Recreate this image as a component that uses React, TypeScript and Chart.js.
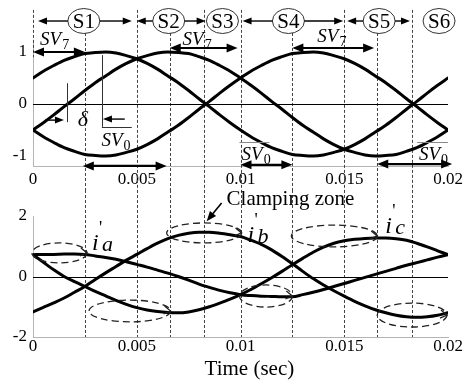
import React, { useEffect, useRef } from 'react';
import { Chart, registerables } from 'chart.js';

Chart.register(...registerables);

const FONT = '"Liberation Serif", "DejaVu Serif", "Times New Roman", serif';

// ---------- data ----------
const time = [
  0, 0.0005, 0.001, 0.0015, 0.002, 0.0025, 0.003, 0.0035, 0.004, 0.0045,
  0.005, 0.0055, 0.006, 0.0065, 0.007, 0.0075, 0.008, 0.0085, 0.009, 0.0095,
  0.01, 0.0105, 0.011, 0.0115, 0.012, 0.0125, 0.013, 0.0135, 0.014, 0.0145,
  0.015, 0.0155, 0.016, 0.0165, 0.017, 0.0175, 0.018, 0.0185, 0.019, 0.0195, 0.02,
];

// upper plot: modulating signals
const modA = [
  0.5, 0.63, 0.74, 0.84, 0.91, 0.97, 0.99, 1.0, 0.98, 0.93,
  0.87, 0.78, 0.67, 0.54, 0.41, 0.26, 0.1, -0.05, -0.21, -0.36,
  -0.5, -0.63, -0.74, -0.84, -0.91, -0.97, -0.99, -1.0, -0.98, -0.93,
  -0.87, -0.78, -0.67, -0.54, -0.41, -0.26, -0.1, 0.05, 0.21, 0.36, 0.5,
];
const modB = [
  -0.5, -0.36, -0.21, -0.05, 0.1, 0.26, 0.41, 0.54, 0.67, 0.78,
  0.87, 0.93, 0.98, 1.0, 0.99, 0.97, 0.91, 0.84, 0.74, 0.63,
  0.5, 0.36, 0.21, 0.05, -0.1, -0.26, -0.41, -0.54, -0.67, -0.78,
  -0.87, -0.93, -0.98, -1.0, -0.99, -0.97, -0.91, -0.84, -0.74, -0.63, -0.5,
];
const modC = [
  -0.5, -0.63, -0.74, -0.84, -0.91, -0.97, -0.99, -1.0, -0.98, -0.93,
  -0.87, -0.78, -0.67, -0.54, -0.41, -0.26, -0.1, 0.05, 0.21, 0.36,
  0.5, 0.63, 0.74, 0.84, 0.91, 0.97, 0.99, 1.0, 0.98, 0.93,
  0.87, 0.78, 0.67, 0.54, 0.41, 0.26, 0.1, -0.05, -0.21, -0.36, -0.5,
];

// lower plot: currents i'a, i'b, i'c
const iA = [
  0.72, 0.73, 0.73, 0.74, 0.74, 0.73, 0.68, 0.63, 0.57, 0.49,
  0.4, 0.31, 0.21, 0.11, 0.0, -0.12, -0.25, -0.36, -0.46, -0.54,
  -0.6, -0.63, -0.65, -0.66, -0.67, -0.67, -0.6, -0.52, -0.43, -0.33,
  -0.23, -0.13, -0.03, 0.07, 0.17, 0.27, 0.37, 0.46, 0.55, 0.64, 0.72,
];
const iB = [
  -1.17, -1.02, -0.87, -0.71, -0.52, -0.33, -0.1, 0.12, 0.33, 0.54,
  0.73, 0.92, 1.1, 1.25, 1.36, 1.43, 1.46, 1.46, 1.43, 1.38,
  1.32, 1.2, 1.06, 0.88, 0.66, 0.42, 0.17, -0.07, -0.28, -0.47,
  -0.65, -0.82, -0.97, -1.1, -1.2, -1.28, -1.33, -1.35, -1.33, -1.28, -1.2,
];
const iC = [
  0.72, 0.47, 0.22, 0.0, -0.17, -0.33, -0.49, -0.64, -0.79, -0.92,
  -1.03, -1.11, -1.16, -1.19, -1.2, -1.17, -1.1, -1.0, -0.88, -0.75,
  -0.6, -0.43, -0.24, -0.04, 0.17, 0.39, 0.6, 0.8, 0.97, 1.1,
  1.18, 1.23, 1.26, 1.27, 1.27, 1.25, 1.2, 1.1, 0.98, 0.85, 0.72,
];

const xTicks = [0, 0.005, 0.01, 0.015, 0.02];
const xTickLabels = ['0', '0.005', '0.01', '0.015', '0.02'];
const yTicksTop = [-1, 0, 1];
const yTickLabelsTop = ['-1', '0', '1'];
const yTicksBottom = [-2, 0, 2];
const yTickLabelsBottom = ['-2', '0', '2'];
const sectorLabels = ['S1', 'S2', 'S3', 'S4', 'S5', 'S6'];
const xTitle = 'Time (sec)';
const clampText = 'Clamping zone';
const currentNames = ['a', 'b', 'c'];

// ---------- annotation placement (data coordinates) ----------
const TOP_ANN = {
  dashed: [
    { t: 0, v1: 1.81, v2: 0.9 },
    { t: 0.0025, v1: 1.365, v2: null },
    { t: 0.005, v1: 1.81, v2: null },
    { t: 0.0066, v1: 1.365, v2: null },
    { t: 0.00825, v1: 1.81, v2: null },
    { t: 0.01, v1: 1.81, v2: null },
    { t: 0.0125, v1: 1.365, v2: null },
    { t: 0.015, v1: 1.81, v2: null },
    { t: 0.0166, v1: 1.365, v2: null },
    { t: 0.01825, v1: 1.81, v2: null },
  ],
  rowV: 1.596,
  circles: [0.00245, 0.00654, 0.00913, 0.01231, 0.01668, 0.01957],
  rowArrows: [
    [0.00168, 0.00024],
    [0.00322, 0.00476],
    [0.00577, 0.005],
    [0.00731, 0.00832],
    [0.01154, 0.0101],
    [0.01308, 0.01495],
    [0.01591, 0.01514],
    [0.01745, 0.01817],
  ],
  sv7: [
    { t: 0.00034, v: 1.135 },
    { t: 0.00721, v: 1.135 },
    { t: 0.0137, v: 1.19 },
  ],
  dblArrows: [
    { t1: 0, t2: 0.0025, v: 1.0 },
    { t1: 0.00659, t2: 0.00986, v: 1.077 },
    { t1: 0.0125, t2: 0.01644, v: 1.077 },
    { t1: 0.0024, t2: 0.00644, v: -1.19 },
    { t1: 0.01, t2: 0.0125, v: -1.17 },
    { t1: 0.01659, t2: 0.0202, v: -1.156 },
  ],
  sv0: [
    { t: 0.0033, v: -0.81 },
    { t: 0.01005, v: -1.08 },
    { t: 0.0186, v: -1.08 },
  ],
  delta: { t: 0.00216, v: -0.42 },
  thinArrows: [
    { t1: 0.00058, t2: 0.00149, v: -0.31 },
    { t1: 0.00442, t2: 0.00337, v: -0.29 },
  ],
  vLines: [
    { t: 0.00163, v1: 0.4, v2: -0.35 },
    { t: 0.00332, v1: 0.94, v2: -0.44 },
  ],
  hLines: [
    { t1: 0.00332, t2: 0.00476, v: -0.44, grey: false },
    { t1: 0.00995, t2: 0.01139, v: -0.73, grey: true },
    { t1: 0.01851, t2: 0.02, v: -0.73, grey: true },
  ],
};

const BOT_ANN = {
  dashed: [0.0025, 0.005, 0.0066, 0.00825, 0.01, 0.0125, 0.015, 0.0166, 0.01825],
  ellipses: [
    { t1: -0.00005, t2: 0.0026, v1: 1.11, v2: 0.45 },
    { t1: 0.00644, t2: 0.01005, v1: 1.77, v2: 1.11 },
    { t1: 0.0027, t2: 0.00663, v1: -0.78, v2: -1.5 },
    { t1: 0.00995, t2: 0.0125, v1: -0.28, v2: -1.01 },
    { t1: 0.01245, t2: 0.01659, v1: 1.7, v2: 0.98 },
    { t1: 0.01659, t2: 0.01995, v1: -0.88, v2: -1.67 },
  ],
  currentLabels: [
    { t: 0.00284, v: 0.88 },
    { t: 0.01034, v: 1.14 },
    { t: 0.01697, v: 1.44 },
  ],
  clamp: { t: 0.00933, v: 2.36 },
  clampArrow: { t1: 0.00909, v1: 2.43, t2: 0.00837, v2: 1.83 },
  title: { t: 0.01043, v: -3.09 },
};

// ---------- drawing helpers ----------
function head(ctx: CanvasRenderingContext2D, x: number, y: number, ang: number, len: number, w: number) {
  ctx.save();
  ctx.translate(x, y);
  ctx.rotate(ang);
  ctx.beginPath();
  ctx.moveTo(0, 0);
  ctx.lineTo(-len, w / 2);
  ctx.lineTo(-len, -w / 2);
  ctx.closePath();
  ctx.fill();
  ctx.restore();
}

function arrow(
  ctx: CanvasRenderingContext2D,
  x1: number, y1: number, x2: number, y2: number,
  start: boolean, end: boolean, lw: number, len: number, w: number,
) {
  const ang = Math.atan2(y2 - y1, x2 - x1);
  const c = Math.cos(ang), s = Math.sin(ang);
  const sx = start ? x1 + c * len * 0.7 : x1;
  const sy = start ? y1 + s * len * 0.7 : y1;
  const ex = end ? x2 - c * len * 0.7 : x2;
  const ey = end ? y2 - s * len * 0.7 : y2;
  ctx.lineWidth = lw;
  ctx.beginPath();
  ctx.moveTo(sx, sy);
  ctx.lineTo(ex, ey);
  ctx.stroke();
  if (end) head(ctx, x2, y2, ang, len, w);
  if (start) head(ctx, x1, y1, ang + Math.PI, len, w);
}

function subLabel(ctx: CanvasRenderingContext2D, x: number, y: number, main: string, sub: string, size: number) {
  ctx.textAlign = 'left';
  ctx.textBaseline = 'alphabetic';
  ctx.font = `italic ${size}px ${FONT}`;
  ctx.fillText(main, x, y);
  const w = ctx.measureText(main).width;
  ctx.font = `${Math.round(size * 0.74)}px ${FONT}`;
  ctx.fillText(sub, x + w + 1, y + size * 0.22);
}

function series(vals: number[]) {
  return time.map((t, i) => ({ x: t, y: vals[i] }));
}

function lineDataset(vals: number[]) {
  return {
    data: series(vals),
    borderColor: '#000',
    backgroundColor: '#000',
    borderWidth: 3,
    pointRadius: 0,
    fill: false,
    cubicInterpolationMode: 'monotone' as const,
    borderJoinStyle: 'round' as const,
    borderCapStyle: 'round' as const,
  };
}

function scalesFor(yMin: number, yMax: number, yTicks: number[], yLabels: string[], xHeight: number, xPad: number) {
  return {
    x: {
      type: 'linear' as const,
      min: 0,
      max: 0.02,
      afterBuildTicks: (s: any) => { s.ticks = xTicks.map((v) => ({ value: v })); },
      afterFit: (s: any) => { s.height = xHeight; },
      grid: { display: false, drawTicks: false },
      border: { display: true, color: '#b4b4b4', width: 1 },
      ticks: {
        autoSkip: false,
        maxRotation: 0,
        padding: xPad,
        color: '#000',
        font: { family: FONT, size: 17 },
        callback: (v: any) => {
          const i = xTicks.findIndex((x) => Math.abs(x - v) < 1e-9);
          return i >= 0 ? xTickLabels[i] : '';
        },
      },
    },
    y: {
      type: 'linear' as const,
      min: yMin,
      max: yMax,
      afterBuildTicks: (s: any) => { s.ticks = yTicks.map((v) => ({ value: v })); },
      afterFit: (s: any) => { s.width = 33; },
      grid: { display: false, drawTicks: false },
      border: { display: true, color: '#b4b4b4', width: 1 },
      ticks: {
        padding: 6,
        color: '#000',
        font: { family: FONT, size: 17 },
        callback: (v: any) => {
          const i = yTicks.findIndex((x) => Math.abs(x - v) < 1e-9);
          return i >= 0 ? yLabels[i] : '';
        },
      },
    },
  };
}

const topPlugin = {
  id: 'topAnn',
  beforeDatasetsDraw(chart: any) {
    const ctx: CanvasRenderingContext2D = chart.ctx;
    const X = (t: number) => chart.scales.x.getPixelForValue(t);
    const Y = (v: number) => chart.scales.y.getPixelForValue(v);
    ctx.save();
    ctx.strokeStyle = '#444';
    ctx.lineWidth = 1;
    ctx.setLineDash([3, 2]);
    TOP_ANN.dashed.forEach((d) => {
      const x = Math.round(X(d.t)) + 0.5;
      ctx.beginPath();
      ctx.moveTo(x, Y(d.v1));
      ctx.lineTo(x, d.v2 === null ? chart.height : Y(d.v2));
      ctx.stroke();
    });
    ctx.setLineDash([]);
    ctx.strokeStyle = '#000';
    ctx.beginPath();
    ctx.moveTo(X(0), Math.round(Y(0)) + 0.5);
    ctx.lineTo(X(0.02), Math.round(Y(0)) + 0.5);
    ctx.stroke();
    ctx.restore();
  },
  afterDraw(chart: any) {
    const ctx: CanvasRenderingContext2D = chart.ctx;
    const X = (t: number) => chart.scales.x.getPixelForValue(t);
    const Y = (v: number) => chart.scales.y.getPixelForValue(v);
    ctx.save();
    ctx.fillStyle = '#000';
    ctx.strokeStyle = '#000';
    const ry = Y(TOP_ANN.rowV);
    // sector circles
    TOP_ANN.circles.forEach((t, i) => {
      const cx = X(t);
      ctx.lineWidth = 1;
      ctx.strokeStyle = '#333';
      ctx.beginPath();
      ctx.ellipse(cx, ry, 16, 12.5, 0, 0, Math.PI * 2);
      ctx.stroke();
      ctx.font = `21px ${FONT}`;
      ctx.textAlign = 'center';
      ctx.textBaseline = 'middle';
      ctx.fillText(sectorLabels[i], cx, ry + 1);
    });
    ctx.strokeStyle = '#000';
    TOP_ANN.rowArrows.forEach(([a, b]) => arrow(ctx, X(a), ry, X(b), ry, false, true, 1.4, 9, 7));
    // SV7
    TOP_ANN.sv7.forEach((p) => subLabel(ctx, X(p.t), Y(p.v), 'SV', '7', 19));
    TOP_ANN.dblArrows.forEach((d) => arrow(ctx, X(d.t1), Y(d.v), X(d.t2), Y(d.v), true, true, 2.2, 11, 9));
    // SV0
    TOP_ANN.sv0.forEach((p) => subLabel(ctx, X(p.t), Y(p.v), 'SV', '0', 19));
    // delta
    ctx.font = `italic 22px ${FONT}`;
    ctx.textAlign = 'left';
    ctx.textBaseline = 'alphabetic';
    ctx.fillText('δ', X(TOP_ANN.delta.t), Y(TOP_ANN.delta.v));
    TOP_ANN.thinArrows.forEach((d) => arrow(ctx, X(d.t1), Y(d.v), X(d.t2), Y(d.v), false, true, 1.4, 9, 7));
    ctx.lineWidth = 1;
    ctx.strokeStyle = '#333';
    TOP_ANN.vLines.forEach((l) => {
      const x = Math.round(X(l.t)) + 0.5;
      ctx.beginPath();
      ctx.moveTo(x, Y(l.v1));
      ctx.lineTo(x, Y(l.v2));
      ctx.stroke();
    });
    TOP_ANN.hLines.forEach((l) => {
      ctx.strokeStyle = l.grey ? '#888' : '#333';
      const y = Math.round(Y(l.v)) + 0.5;
      ctx.beginPath();
      ctx.moveTo(X(l.t1), y);
      ctx.lineTo(X(l.t2), y);
      ctx.stroke();
    });
    ctx.restore();
  },
};

const botPlugin = {
  id: 'botAnn',
  beforeDatasetsDraw(chart: any) {
    const ctx: CanvasRenderingContext2D = chart.ctx;
    const X = (t: number) => chart.scales.x.getPixelForValue(t);
    const Y = (v: number) => chart.scales.y.getPixelForValue(v);
    ctx.save();
    ctx.strokeStyle = '#444';
    ctx.lineWidth = 1;
    ctx.setLineDash([3, 2]);
    BOT_ANN.dashed.forEach((t) => {
      const x = Math.round(X(t)) + 0.5;
      ctx.beginPath();
      ctx.moveTo(x, 0);
      ctx.lineTo(x, chart.chartArea.bottom);
      ctx.stroke();
    });
    ctx.setLineDash([]);
    ctx.strokeStyle = '#000';
    ctx.beginPath();
    ctx.moveTo(X(0), Math.round(Y(0)) + 0.5);
    ctx.lineTo(X(0.02), Math.round(Y(0)) + 0.5);
    ctx.stroke();
    ctx.restore();
  },
  afterDraw(chart: any) {
    const ctx: CanvasRenderingContext2D = chart.ctx;
    const X = (t: number) => chart.scales.x.getPixelForValue(t);
    const Y = (v: number) => chart.scales.y.getPixelForValue(v);
    ctx.save();
    ctx.fillStyle = '#000';
    ctx.strokeStyle = '#222';
    // dashed ellipses
    BOT_ANN.ellipses.forEach((e) => {
      const x1 = X(e.t1), x2 = X(e.t2), y1 = Y(e.v1), y2 = Y(e.v2);
      const cx = (x1 + x2) / 2, cy = (y1 + y2) / 2;
      const rx = Math.abs(x2 - x1) / 2, rY = Math.abs(y2 - y1) / 2;
      ctx.lineWidth = 1.3;
      ctx.setLineDash([7, 4]);
      ctx.beginPath();
      ctx.ellipse(cx, cy, rx, rY, 0, 0, Math.PI * 2);
      ctx.stroke();
      ctx.setLineDash([]);
      const hx = cx + rx, hy = cy;
      ctx.beginPath();
      ctx.moveTo(hx - 6, hy - 5);
      ctx.lineTo(hx, hy);
      ctx.lineTo(hx - 7, hy + 3);
      ctx.stroke();
    });
    // current labels
    BOT_ANN.currentLabels.forEach((p, i) => {
      const x = X(p.t), y = Y(p.v);
      ctx.textAlign = 'left';
      ctx.textBaseline = 'alphabetic';
      ctx.font = `italic 24px ${FONT}`;
      ctx.fillText('i', x, y);
      ctx.font = `18px ${FONT}`;
      ctx.fillText("'", x + 7, y - 16);
      ctx.font = `italic 22px ${FONT}`;
      ctx.fillText(currentNames[i], x + 10, y + 1);
    });
    // clamping zone
    ctx.font = `21px ${FONT}`;
    ctx.textAlign = 'left';
    ctx.textBaseline = 'alphabetic';
    ctx.fillText(clampText, X(BOT_ANN.clamp.t), Y(BOT_ANN.clamp.v));
    const a = BOT_ANN.clampArrow;
    ctx.strokeStyle = '#000';
    arrow(ctx, X(a.t1), Y(a.v1), X(a.t2), Y(a.v2), false, true, 1.6, 10, 8);
    // axis title
    ctx.font = `21px ${FONT}`;
    ctx.textAlign = 'center';
    ctx.textBaseline = 'middle';
    ctx.fillText(xTitle, X(BOT_ANN.title.t), Y(BOT_ANN.title.v));
    ctx.restore();
  },
};

export default function App() {
  const topRef = useRef<HTMLCanvasElement>(null);
  const botRef = useRef<HTMLCanvasElement>(null);

  useEffect(() => {
    const common = {
      responsive: false,
      animation: false as const,
      devicePixelRatio: 1,
      plugins: { legend: { display: false }, tooltip: { enabled: false } },
      events: [] as any[],
    };
    const top = new Chart(topRef.current as HTMLCanvasElement, {
      type: 'line',
      data: { datasets: [lineDataset(modA), lineDataset(modB), lineDataset(modC)] },
      options: {
        ...common,
        layout: { padding: { top: 41.6, right: 20, left: 0, bottom: 0 } },
        scales: scalesFor(-1.2, 1.2, yTicksTop, yTickLabelsTop, 23.6, 3),
      },
      plugins: [topPlugin],
    } as any);
    const bot = new Chart(botRef.current as HTMLCanvasElement, {
      type: 'line',
      data: { datasets: [lineDataset(iA), lineDataset(iB), lineDataset(iC)] },
      options: {
        ...common,
        layout: { padding: { top: 26, right: 20, left: 0, bottom: 0 } },
        scales: scalesFor(-2, 2, yTicksBottom, yTickLabelsBottom, 48, -1),
      },
      plugins: [botPlugin],
    } as any);
    return () => {
      top.destroy();
      bot.destroy();
    };
  }, []);

  return (
    <div style={{ position: 'absolute', left: 0, top: 0, width: 468, height: 385, background: '#fff' }}>
      <canvas
        ref={topRef}
        width={468}
        height={190}
        style={{ position: 'absolute', left: 0, top: 0, width: 468, height: 190 }}
      />
      <canvas
        ref={botRef}
        width={468}
        height={195}
        style={{ position: 'absolute', left: 0, top: 190, width: 468, height: 195 }}
      />
    </div>
  );
}
